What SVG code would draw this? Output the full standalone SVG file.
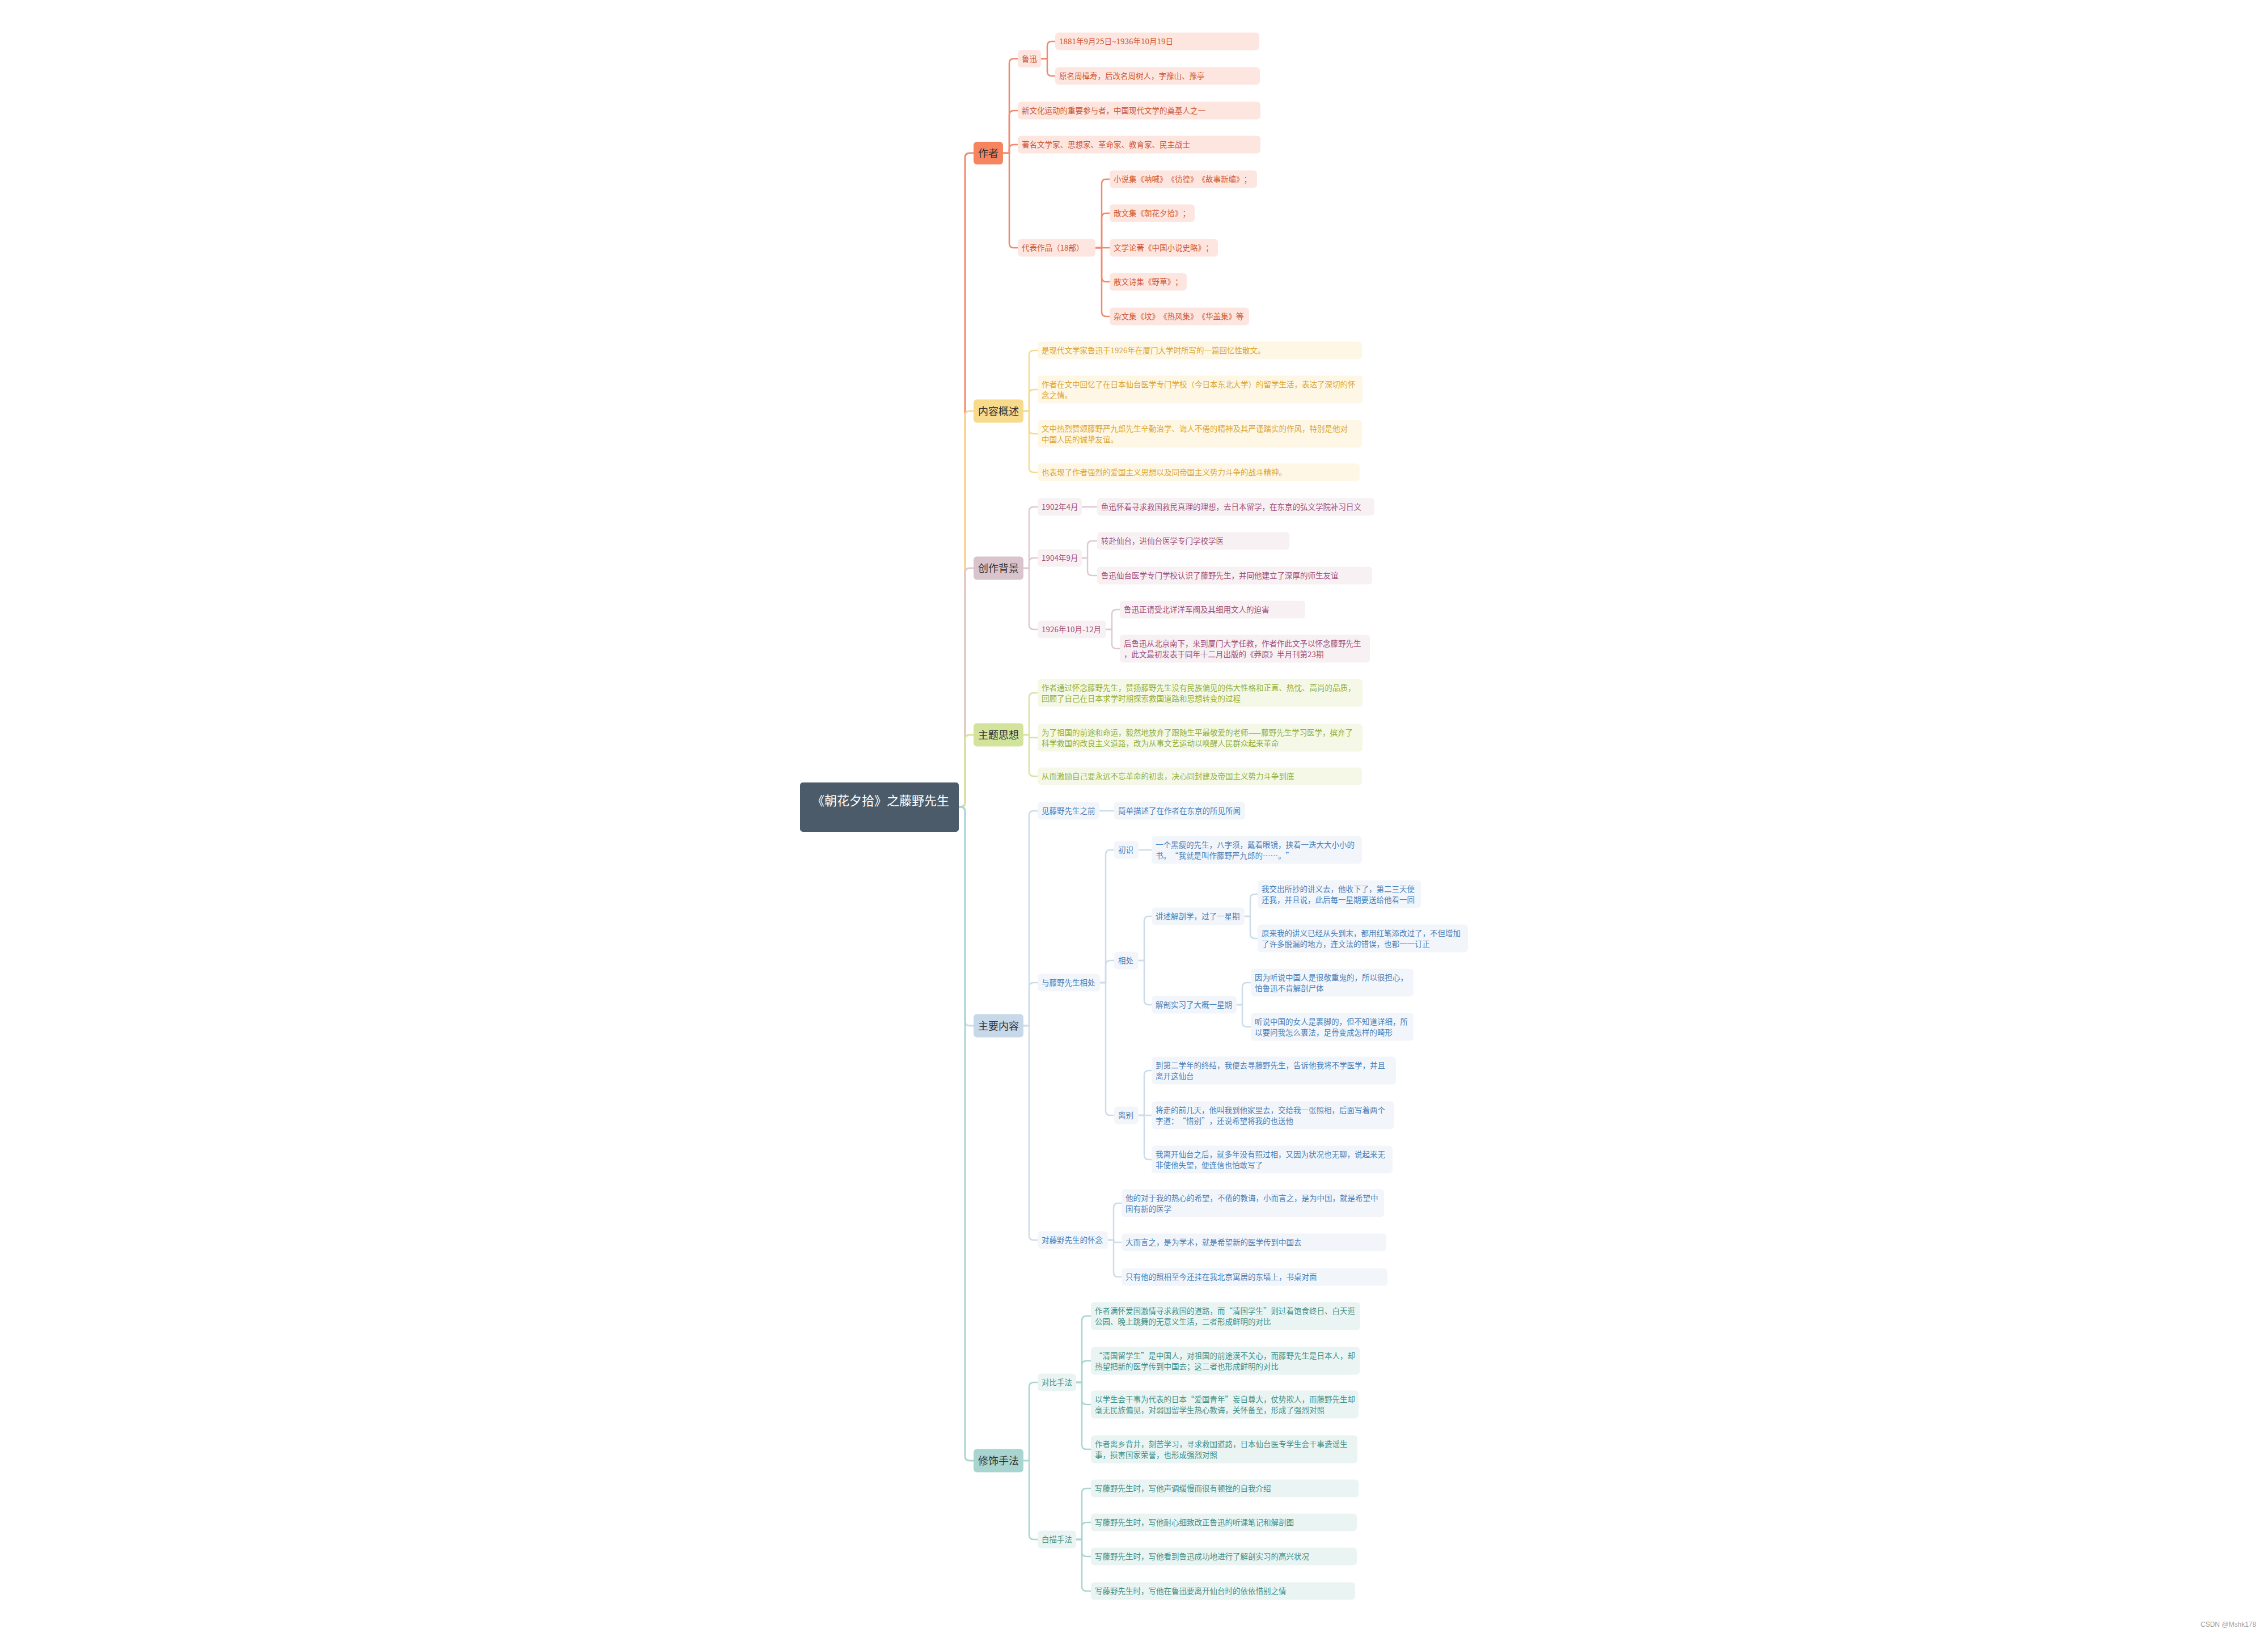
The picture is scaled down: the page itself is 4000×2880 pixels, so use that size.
<svg xmlns="http://www.w3.org/2000/svg" width="4000" height="2880" viewBox="0 0 4000 2880">
<style>
text{font-family:"Noto Sans CJK SC","Noto Sans",sans-serif;text-spacing-trim:space-all}
.b{font-size:13.5px}
.m{font-size:18px;fill:#333;text-anchor:middle}
.cn{font-size:22px;fill:#fff}
.ln path{fill:none;stroke-width:2.5;stroke-linecap:round}
.trunk path{stroke-width:3}
.lo path,path.lo{stroke:#F1896B}
.ly path,path.ly{stroke:#F6D98D}
.lm path,path.lm{stroke:#DDC9D1}
.lg path,path.lg{stroke:#D6E4A2}
.lb path,path.lb{stroke:#CCDCEA}
.lt path,path.lt{stroke:#A9D5D1}
.o .s{fill:#FDE6DF}.o text.b{fill:#CF5837}.o .mn{fill:#F5845F}
.y .s{fill:#FEF7E5}.y text.b{fill:#DCA634}.y .mn{fill:#F8DA8C}
.v .s{fill:#F7F1F4}.v text.b{fill:#A1507A}.v .mn{fill:#D9C3CC}
.g .s{fill:#F5F8E6}.g text.b{fill:#94B13D}.g .mn{fill:#D4E39B}
.u .s{fill:#F2F6FA}.u text.b{fill:#4A80B9}.u .mn{fill:#C7D8E8}
.t .s{fill:#EAF4F3}.t text.b{fill:#3F9189}.t .mn{fill:#A8D5D0}
</style>
<rect x="0" y="0" width="4000" height="2880" fill="#fff"/>
<g id="connectors" class="ln">
 <g class="trunk">
  <path class="lo" d="M1691 1423H1694Q1702 1423 1702 1415V278Q1702 270 1710 270H1717"/>
  <path class="ly" d="M1691 1423H1694Q1702 1423 1702 1415V733Q1702 725 1710 725H1717"/>
  <path class="lm" d="M1691 1423H1694Q1702 1423 1702 1415V1010Q1702 1002 1710 1002H1717"/>
  <path class="lg" d="M1691 1423H1694Q1702 1423 1702 1415V1304Q1702 1296 1710 1296H1717"/>
  <path class="lb" d="M1691 1423H1694Q1702 1423 1702 1431V1801Q1702 1809 1710 1809H1717"/>
  <path class="lt" d="M1691 1423H1694Q1702 1423 1702 1431V2568Q1702 2576 1710 2576H1717"/>
 </g>
 <g class="lo">
  <path d="M1769 270H1780V111.5Q1780 103.5 1788 103.5H1795"/>
  <path d="M1769 270H1780V203Q1780 195 1788 195H1795"/>
  <path d="M1769 270H1780V263Q1780 255 1788 255H1795"/>
  <path d="M1769 270H1780V429Q1780 437 1788 437H1795"/>
  <path d="M1836 103.5H1847V81Q1847 73 1855 73H1861"/>
  <path d="M1836 103.5H1847V126Q1847 134 1855 134H1861"/>
  <path d="M1932 437H1943V324Q1943 316 1951 316H1957"/>
  <path d="M1932 437H1943V384Q1943 376 1951 376H1957"/>
  <path d="M1932 437H1957"/>
  <path d="M1932 437H1943V489Q1943 497 1951 497H1957"/>
  <path d="M1932 437H1943V550Q1943 558 1951 558H1957"/>
 </g>
 <g class="ly">
  <path d="M1805 725H1815V626Q1815 618 1823 618H1830"/>
  <path d="M1805 725H1815V695Q1815 687 1823 687H1830"/>
  <path d="M1805 725H1815V757Q1815 765 1823 765H1830"/>
  <path d="M1805 725H1815V825Q1815 833 1823 833H1830"/>
 </g>
 <g class="lm">
  <path d="M1805 1002H1815V902Q1815 894 1823 894H1830"/>
  <path d="M1805 1002H1815V992Q1815 984 1823 984H1830"/>
  <path d="M1805 1002H1815V1102Q1815 1110 1823 1110H1830"/>
  <path d="M1908 894H1935"/>
  <path d="M1908 984H1918V962Q1918 954 1926 954H1935"/>
  <path d="M1908 984H1918V1007Q1918 1015 1926 1015H1935"/>
  <path d="M1951 1110H1961V1083Q1961 1075 1969 1075H1975"/>
  <path d="M1951 1110H1961V1136Q1961 1144 1969 1144H1975"/>
 </g>
 <g class="lg">
  <path d="M1805 1296H1815V1230Q1815 1222 1823 1222H1830"/>
  <path d="M1805 1296H1815V1298Q1815 1301 1818 1301H1830"/>
  <path d="M1805 1296H1815V1361Q1815 1369 1823 1369H1830"/>
 </g>
 <g class="lb">
  <path d="M1805 1809H1815V1438Q1815 1430 1823 1430H1830"/>
  <path d="M1805 1809H1815V1741Q1815 1733 1823 1733H1830"/>
  <path d="M1805 1809H1815V2179Q1815 2187 1823 2187H1830"/>
  <path d="M1939 1430H1965"/>
  <path d="M1940 1733H1950V1507Q1950 1499 1958 1499H1965"/>
  <path d="M1940 1733H1950V1702Q1950 1694 1958 1694H1965"/>
  <path d="M1940 1733H1950V1959Q1950 1967 1958 1967H1965"/>
  <path d="M2008 1499H2031"/>
  <path d="M2008 1694H2018V1624Q2018 1616 2026 1616H2031"/>
  <path d="M2008 1694H2018V1764Q2018 1772 2026 1772H2031"/>
  <path d="M2195 1616H2205V1585Q2205 1577 2213 1577H2218"/>
  <path d="M2195 1616H2205V1647Q2205 1655 2213 1655H2218"/>
  <path d="M2181 1772H2191V1741Q2191 1733 2199 1733H2206"/>
  <path d="M2181 1772H2191V1803Q2191 1811 2199 1811H2206"/>
  <path d="M2008 1967H2018V1896Q2018 1888 2026 1888H2031"/>
  <path d="M2008 1967H2031"/>
  <path d="M2008 1967H2018V2037Q2018 2045 2026 2045H2031"/>
  <path d="M1954 2187H1964V2130Q1964 2122 1972 2122H1978"/>
  <path d="M1954 2187H1964V2188Q1964 2191 1967 2191H1978"/>
  <path d="M1954 2187H1964V2244Q1964 2252 1972 2252H1978"/>
 </g>
 <g class="lt">
  <path d="M1805 2576H1815V2446Q1815 2438 1823 2438H1830"/>
  <path d="M1805 2576H1815V2707Q1815 2715 1823 2715H1830"/>
  <path d="M1898 2438H1908V2329Q1908 2321 1916 2321H1924"/>
  <path d="M1898 2438H1908V2408Q1908 2400 1916 2400H1924"/>
  <path d="M1898 2438H1908V2469Q1908 2477 1916 2477H1924"/>
  <path d="M1898 2438H1908V2548Q1908 2556 1916 2556H1924"/>
  <path d="M1898 2715H1908V2633Q1908 2625 1916 2625H1924"/>
  <path d="M1898 2715H1908V2693Q1908 2685 1916 2685H1924"/>
  <path d="M1898 2715H1908V2737Q1908 2745 1916 2745H1924"/>
  <path d="M1898 2715H1908V2798Q1908 2806 1916 2806H1924"/>
 </g>
</g>

<g id="root"><rect x="1411" y="1380" width="280" height="87" rx="5" fill="#4B5B6A"/><text class="cn" x="1432" y="1420">《朝花夕拾》之藤野先生</text></g>

<!-- 作者 -->
<g class="o">
 <g id="n-zuozhe"><rect class="mn" x="1717" y="250" width="52" height="40" rx="6"/><text class="m" x="1743" y="276.5">作者</text></g>
 <g id="n-luxun"><rect class="s" x="1795" y="88" width="41" height="31" rx="6"/><text class="b" x="1802" y="108.5">鲁迅</text></g>
 <g id="n-a1"><rect class="s" x="1861" y="57.5" width="360" height="31" rx="6"/><text class="b" x="1868" y="78">1881年9月25日~1936年10月19日</text></g>
 <g id="n-a2"><rect class="s" x="1861" y="118.5" width="361" height="31" rx="6"/><text class="b" x="1868" y="139">原名周樟寿，后改名周树人，字豫山、豫亭</text></g>
 <g id="n-a3"><rect class="s" x="1795" y="179.5" width="428" height="31" rx="6"/><text class="b" x="1802" y="200">新文化运动的重要参与者，中国现代文学的奠基人之一</text></g>
 <g id="n-a4"><rect class="s" x="1795" y="239.5" width="428" height="31" rx="6"/><text class="b" x="1802" y="260">著名文学家、思想家、革命家、教育家、民主战士</text></g>
 <g id="n-a5"><rect class="s" x="1795" y="421.5" width="137" height="31" rx="6"/><text class="b" x="1802" y="442">代表作品（18部）</text></g>
 <g id="n-w1"><rect class="s" x="1957" y="300.5" width="260" height="31" rx="6"/><text class="b" x="1964" y="321">小说集《呐喊》《彷徨》《故事新编》；</text></g>
 <g id="n-w2"><rect class="s" x="1957" y="360.5" width="150" height="31" rx="6"/><text class="b" x="1964" y="381">散文集《朝花夕拾》；</text></g>
 <g id="n-w3"><rect class="s" x="1957" y="421.5" width="191" height="31" rx="6"/><text class="b" x="1964" y="442">文学论著《中国小说史略》；</text></g>
 <g id="n-w4"><rect class="s" x="1957" y="481.5" width="136" height="31" rx="6"/><text class="b" x="1964" y="502">散文诗集《野草》；</text></g>
 <g id="n-w5"><rect class="s" x="1957" y="542.5" width="246" height="31" rx="6"/><text class="b" x="1964" y="563">杂文集《坟》《热风集》《华盖集》等</text></g>
</g>

<!-- 内容概述 -->
<g class="y">
 <g id="n-neirong"><rect class="mn" x="1717" y="704.5" width="88" height="41" rx="6"/><text class="m" x="1761" y="731.5">内容概述</text></g>
 <g id="n-y1"><rect class="s" x="1830" y="602.5" width="572" height="31" rx="6"/><text class="b" x="1837" y="623">是现代文学家鲁迅于1926年在厦门大学时所写的一篇回忆性散文。</text></g>
 <g id="n-y2"><rect class="s" x="1830" y="662.5" width="573" height="49" rx="6"/><text class="b" x="1837" y="683">作者在文中回忆了在日本仙台医学专门学校（今日本东北大学）的留学生活，表达了深切的怀</text><text class="b" x="1837" y="702">念之情。</text></g>
 <g id="n-y3"><rect class="s" x="1830" y="740.5" width="572" height="49" rx="6"/><text class="b" x="1837" y="761">文中热烈赞颂藤野严九郎先生辛勤治学、诲人不倦的精神及其严谨踏实的作风，特别是他对</text><text class="b" x="1837" y="780">中国人民的诚挚友谊。</text></g>
 <g id="n-y4"><rect class="s" x="1830" y="817.5" width="568" height="31" rx="6"/><text class="b" x="1837" y="838">也表现了作者强烈的爱国主义思想以及同帝国主义势力斗争的战斗精神。</text></g>
</g>

<!-- 创作背景 -->
<g class="v">
 <g id="n-beijing"><rect class="mn" x="1717" y="981.5" width="88" height="41" rx="6"/><text class="m" x="1761" y="1008.5">创作背景</text></g>
 <g id="n-v1902"><rect class="s" x="1830" y="878.5" width="78" height="31" rx="6"/><text class="b" x="1837" y="899">1902年4月</text></g>
 <g id="n-v1"><rect class="s" x="1935" y="878.5" width="489" height="31" rx="6"/><text class="b" x="1942" y="899">鱼迅怀着寻求救国救民真理的理想，去日本留学，在东京的弘文学院补习日文</text></g>
 <g id="n-v1904"><rect class="s" x="1830" y="968.5" width="78" height="31" rx="6"/><text class="b" x="1837" y="989">1904年9月</text></g>
 <g id="n-v2"><rect class="s" x="1935" y="938.5" width="339" height="31" rx="6"/><text class="b" x="1942" y="959">转赴仙台，进仙台医学专门学校学医</text></g>
 <g id="n-v3"><rect class="s" x="1935" y="999.5" width="485" height="31" rx="6"/><text class="b" x="1942" y="1020">鲁迅仙台医学专门学校认识了藤野先生，并同他建立了深厚的师生友谊</text></g>
 <g id="n-v1926"><rect class="s" x="1830" y="1094.5" width="121" height="31" rx="6"/><text class="b" x="1837" y="1115">1926年10月-12月</text></g>
 <g id="n-v4"><rect class="s" x="1975" y="1059.5" width="327" height="31" rx="6"/><text class="b" x="1982" y="1080">鲁迅正请受北详洋军阀及其细用文人的迫害</text></g>
 <g id="n-v5"><rect class="s" x="1975" y="1119.5" width="441" height="49" rx="6"/><text class="b" x="1982" y="1140">后鲁迅从北京南下，来到厦门大学任教，作者作此文予以怀念藤野先生</text><text class="b" x="1982" y="1159">，此文最初发表于同年十二月出版的《莽原》半月刊第23期</text></g>
</g>

<!-- 主题思想 -->
<g class="g">
 <g id="n-zhuti"><rect class="mn" x="1717" y="1275.5" width="88" height="41" rx="6"/><text class="m" x="1761" y="1302.5">主题思想</text></g>
 <g id="n-g1"><rect class="s" x="1830" y="1197.5" width="573" height="49" rx="6"/><text class="b" x="1837" y="1218">作者通过怀念藤野先生，赞扬藤野先生没有民族偏见的伟大性格和正直、热忱、高尚的品质，</text><text class="b" x="1837" y="1237">回顾了自己在日本求学时期探索救国道路和思想转变的过程</text></g>
 <g id="n-g2"><rect class="s" x="1830" y="1276.5" width="573" height="49" rx="6"/><text class="b" x="1837" y="1297">为了祖国的前途和命运，毅然地放弃了跟随生平最敬爱的老师——藤野先生学习医学，摈弃了</text><text class="b" x="1837" y="1316">科学救国的改良主义道路，改为从事文艺运动以唤醒人民群众起来革命</text></g>
 <g id="n-g3"><rect class="s" x="1830" y="1353.5" width="572" height="31" rx="6"/><text class="b" x="1837" y="1374">从而激励自己要永远不忘革命的初衷，决心同封建及帝国主义势力斗争到底</text></g>
</g>

<!-- 主要内容 -->
<g class="u">
 <g id="n-zhuyao"><rect class="mn" x="1717" y="1788.5" width="88" height="41" rx="6"/><text class="m" x="1761" y="1815.5">主要内容</text></g>
 <g id="n-u1"><rect class="s" x="1830" y="1414.5" width="109" height="31" rx="6"/><text class="b" x="1837" y="1435">见藤野先生之前</text></g>
 <g id="n-u1a"><rect class="s" x="1965" y="1414.5" width="231" height="31" rx="6"/><text class="b" x="1972" y="1435">简单描述了在作者在东京的所见所闻</text></g>
 <g id="n-u2"><rect class="s" x="1830" y="1717.5" width="110" height="31" rx="6"/><text class="b" x="1837" y="1738">与藤野先生相处</text></g>
 <g id="n-chushi"><rect class="s" x="1965" y="1483.5" width="43" height="31" rx="6"/><text class="b" x="1972" y="1504">初识</text></g>
 <g id="n-chushi1"><rect class="s" x="2031" y="1474.5" width="371" height="49" rx="6"/><text class="b" x="2038" y="1495">一个黑瘦的先生，八字须，戴着眼镜，挟着一迭大大小小的</text><text class="b" x="2038" y="1514">书。“我就是叫作藤野严九郎的……。”</text></g>
 <g id="n-xiangchu"><rect class="s" x="1965" y="1678.5" width="43" height="31" rx="6"/><text class="b" x="1972" y="1699">相处</text></g>
 <g id="n-x1"><rect class="s" x="2031" y="1600.5" width="164" height="31" rx="6"/><text class="b" x="2038" y="1621">讲述解剖学，过了一星期</text></g>
 <g id="n-x1a"><rect class="s" x="2218" y="1552.5" width="288" height="49" rx="6"/><text class="b" x="2225" y="1573">我交出所抄的讲义去，他收下了，第二三天便</text><text class="b" x="2225" y="1592">还我，并且说，此后每一星期要送给他看一回</text></g>
 <g id="n-x1b"><rect class="s" x="2218" y="1630.5" width="371" height="49" rx="6"/><text class="b" x="2225" y="1651">原来我的讲义已经从头到末，都用红笔添改过了，不但增加</text><text class="b" x="2225" y="1670">了许多脱漏的地方，连文法的错误，也都一一订正</text></g>
 <g id="n-x2"><rect class="s" x="2031" y="1756.5" width="150" height="31" rx="6"/><text class="b" x="2038" y="1777">解剖实习了大概一星期</text></g>
 <g id="n-x2a"><rect class="s" x="2206" y="1708.5" width="287" height="49" rx="6"/><text class="b" x="2213" y="1729">因为听说中国人是很敬重鬼的，所以很担心，</text><text class="b" x="2213" y="1748">怕鲁迅不肯解剖尸体</text></g>
 <g id="n-x2b"><rect class="s" x="2206" y="1786.5" width="287" height="49" rx="6"/><text class="b" x="2213" y="1807">听说中国的女人是裹脚的，但不知道详细，所</text><text class="b" x="2213" y="1826">以要问我怎么裹法，足骨变成怎样的畸形</text></g>
 <g id="n-libie"><rect class="s" x="1965" y="1951.5" width="43" height="31" rx="6"/><text class="b" x="1972" y="1972">离别</text></g>
 <g id="n-l1"><rect class="s" x="2031" y="1863.5" width="431" height="49" rx="6"/><text class="b" x="2038" y="1884">到第二学年的终结，我便去寻藤野先生，告诉他我将不学医学，并且</text><text class="b" x="2038" y="1903">离开这仙台</text></g>
 <g id="n-l2"><rect class="s" x="2031" y="1942.5" width="428" height="49" rx="6"/><text class="b" x="2038" y="1963">将走的前几天，他叫我到他家里去，交给我一张照相，后面写着两个</text><text class="b" x="2038" y="1982">字道：“惜别”，还说希望将我的也送他</text></g>
 <g id="n-l3"><rect class="s" x="2031" y="2020.5" width="425" height="49" rx="6"/><text class="b" x="2038" y="2041">我离开仙台之后，就多年没有照过相，又因为状况也无聊，说起来无</text><text class="b" x="2038" y="2060">非使他失望，便连信也怕敢写了</text></g>
 <g id="n-u3"><rect class="s" x="1830" y="2171.5" width="124" height="31" rx="6"/><text class="b" x="1837" y="2192">对藤野先生的怀念</text></g>
 <g id="n-h1"><rect class="s" x="1978" y="2097.5" width="463" height="49" rx="6"/><text class="b" x="1985" y="2118">他的对于我的热心的希望，不倦的教诲，小而言之，是为中国，就是希望中</text><text class="b" x="1985" y="2137">国有新的医学</text></g>
 <g id="n-h2"><rect class="s" x="1978" y="2175.5" width="467" height="31" rx="6"/><text class="b" x="1985" y="2196">大而言之，是为学术，就是希望新的医学传到中国去</text></g>
 <g id="n-h3"><rect class="s" x="1978" y="2236.5" width="469" height="31" rx="6"/><text class="b" x="1985" y="2257">只有他的照相至今还挂在我北京寓居的东墙上，书桌对面</text></g>
</g>

<!-- 修饰手法 -->
<g class="t">
 <g id="n-xiushi"><rect class="mn" x="1717" y="2555.5" width="88" height="41" rx="6"/><text class="m" x="1761" y="2582.5">修饰手法</text></g>
 <g id="n-duibi"><rect class="s" x="1830" y="2422.5" width="68" height="31" rx="6"/><text class="b" x="1837" y="2443">对比手法</text></g>
 <g id="n-c1"><rect class="s" x="1924" y="2296.5" width="475" height="49" rx="6"/><text class="b" x="1931" y="2317">作者满怀爱国激情寻求救国的道路，而“清国学生”则过着饱食终日、白天逛</text><text class="b" x="1931" y="2336">公园、晚上跳舞的无意义生活，二者形成鲜明的对比</text></g>
 <g id="n-c2"><rect class="s" x="1924" y="2375.5" width="474" height="49" rx="6"/><text class="b" x="1931" y="2396">“清国留学生”是中国人，对祖国的前途漠不关心，而藤野先生是日本人，却</text><text class="b" x="1931" y="2415">热望把新的医学传到中国去；这二者也形成鲜明的对比</text></g>
 <g id="n-c3"><rect class="s" x="1924" y="2452.5" width="472" height="49" rx="6"/><text class="b" x="1931" y="2473">以学生会干事为代表的日本“爱国青年”妄自尊大，仗势欺人，而藤野先生却</text><text class="b" x="1931" y="2492">毫无民族偏见，对弱国留学生热心教诲，关怀备至，形成了强烈对照</text></g>
 <g id="n-c4"><rect class="s" x="1924" y="2531.5" width="470" height="49" rx="6"/><text class="b" x="1931" y="2552">作者离乡背井，刻苦学习，寻求救国道路，日本仙台医专学生会干事造谣生</text><text class="b" x="1931" y="2571">事，损害国家荣誉，也形成强烈对照</text></g>
 <g id="n-baimiao"><rect class="s" x="1830" y="2699.5" width="68" height="31" rx="6"/><text class="b" x="1837" y="2720">白描手法</text></g>
 <g id="n-b1"><rect class="s" x="1924" y="2609.5" width="472" height="31" rx="6"/><text class="b" x="1931" y="2630">写藤野先生时，写他声调缓慢而很有顿挫的自我介绍</text></g>
 <g id="n-b2"><rect class="s" x="1924" y="2669.5" width="469" height="31" rx="6"/><text class="b" x="1931" y="2690">写藤野先生时，写他耐心细致改正鲁迅的听课笔记和解剖图</text></g>
 <g id="n-b3"><rect class="s" x="1924" y="2729.5" width="469" height="31" rx="6"/><text class="b" x="1931" y="2750">写藤野先生时，写他看到鲁迅成功地进行了解剖实习的高兴状况</text></g>
 <g id="n-b4"><rect class="s" x="1924" y="2790.5" width="466" height="31" rx="6"/><text class="b" x="1931" y="2811">写藤野先生时，写他在鲁迅要离开仙台时的依依惜别之情</text></g>
</g>

<text x="3881" y="2869" style="font-family:'Liberation Sans',Arial,sans-serif;font-size:12px;fill:#A0A0A0">CSDN @Mshk178</text>
</svg>
